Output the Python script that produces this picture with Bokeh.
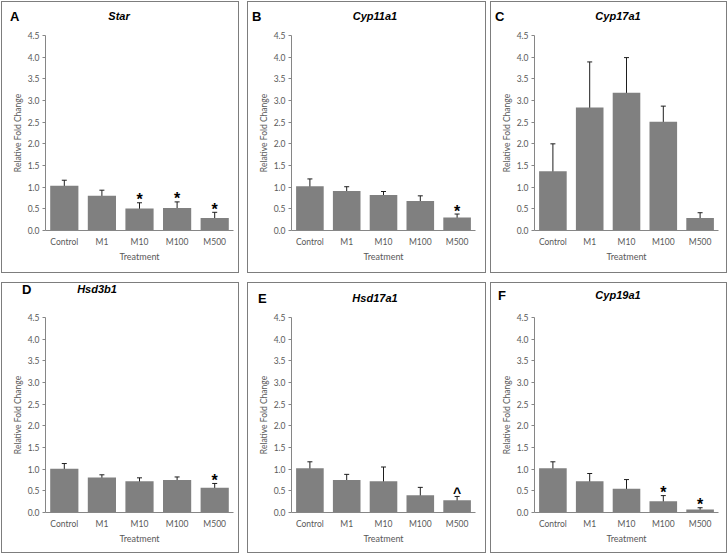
from bokeh.plotting import figure
from bokeh.models import (FactorRange, Range1d, ColumnDataSource, Whisker, TeeHead,
                          FixedTicker, NumeralTickFormatter, Spacer, Div)
from bokeh.layouts import row, column
from bokeh.core.properties import value
from bokeh.embed import file_html
from bokeh.resources import INLINE

# ---------------- data ----------------
categories = ["Control", "M1", "M10", "M100", "M500"]
genes = ["Star", "Cyp11a1", "Cyp17a1", "Hsd3b1", "Hsd17a1", "Cyp19a1"]
letters = ["A", "B", "C", "D", "E", "F"]

star_mean = [1.03, 0.80, 0.51, 0.52, 0.29]
star_err = [0.13, 0.13, 0.13, 0.14, 0.13]
star_sig = ["", "", "*", "*", "*"]

cyp11a1_mean = [1.02, 0.91, 0.82, 0.68, 0.30]
cyp11a1_err = [0.17, 0.10, 0.08, 0.12, 0.08]
cyp11a1_sig = ["", "", "", "", "*"]

cyp17a1_mean = [1.37, 2.84, 3.18, 2.51, 0.29]
cyp17a1_err = [0.63, 1.05, 0.81, 0.36, 0.12]
cyp17a1_sig = ["", "", "", "", ""]

hsd3b1_mean = [1.01, 0.81, 0.72, 0.75, 0.57]
hsd3b1_err = [0.12, 0.06, 0.08, 0.07, 0.10]
hsd3b1_sig = ["", "", "", "", "*"]

hsd17a1_mean = [1.02, 0.75, 0.72, 0.40, 0.28]
hsd17a1_err = [0.15, 0.13, 0.33, 0.18, 0.09]
hsd17a1_sig = ["", "", "", "", "^"]

cyp19a1_mean = [1.02, 0.72, 0.55, 0.26, 0.07]
cyp19a1_err = [0.15, 0.18, 0.21, 0.13, 0.04]
cyp19a1_sig = ["", "", "", "*", "*"]

y_ticks = [0.0, 0.5, 1.0, 1.5, 2.0, 2.5, 3.0, 3.5, 4.0, 4.5]
y_label = "Relative Fold Change"
x_label = "Treatment"

means = [star_mean, cyp11a1_mean, cyp17a1_mean, hsd3b1_mean, hsd17a1_mean, cyp19a1_mean]
errs = [star_err, cyp11a1_err, cyp17a1_err, hsd3b1_err, hsd17a1_err, cyp19a1_err]
sigs = [star_sig, cyp11a1_sig, cyp17a1_sig, hsd3b1_sig, hsd17a1_sig, cyp19a1_sig]

# ---------------- layout / style ----------------
col_w = [236, 237, 235]
col_br = [5, 10, 8]
row_h = [270, 269]
row_bt = [33, 34]
row_bb = [42, 40]
HD = 24
BL = 43
letter_x = [8, 4, 4, 20, 10, 7]
title_cx = [117, 127, 127, 95, 127, 127]
head_y = [13.5, 14, 14, 6, 14.5, 12]

TXT = "#595959"
AXIS = "#868686"
BAR = "#808080"
ERR = "#1e1e1e"
BORDER = "#7d7d7d"
TICK_FONT = "Lato"
HEAD_FONT = "Liberation Sans"


def make_panel(i):
    r, c = divmod(i, 3)
    W = col_w[c]
    H = row_h[r] - HD
    p = figure(x_range=FactorRange(factors=categories, range_padding=0),
               y_range=Range1d(0, 4.5), width=W, height=H,
               output_backend="svg", toolbar_location=None,
               min_border_left=BL, min_border_right=col_br[c],
               min_border_top=row_bt[r] - HD, min_border_bottom=row_bb[r])
    p.outline_line_color = None
    p.xgrid.visible = False
    p.ygrid.visible = False
    p.background_fill_color = "white"
    p.border_fill_color = "white"

    m, e, s = means[i], errs[i], sigs[i]
    src = ColumnDataSource(dict(
        x=categories, top=m,
        upper=[a + b for a, b in zip(m, e)],
        lower=[a - b for a, b in zip(m, e)],
        sig=s,
        size=["14px" if t == "^" else "16px" for t in s],
        yoff=[-3 if t == "^" else -3 for t in s],
    ))
    p.vbar(x="x", top="top", width=0.75, source=src, fill_color=BAR, line_color=None)
    w = Whisker(base="x", upper="upper", lower="lower", source=src,
                line_color=ERR, line_width=1,
                upper_head=TeeHead(size=5, line_color=ERR, line_width=1),
                lower_head=TeeHead(size=5, line_color=ERR, line_width=1))
    p.add_layout(w)
    p.text(x="x", y="upper", text="sig", source=src, text_font_size="size",
           text_font=value(HEAD_FONT), text_font_style="bold", text_color="black",
           text_align="center", text_baseline="alphabetic", y_offset="yoff")

    ya = p.yaxis[0]
    ya.ticker = FixedTicker(ticks=y_ticks)
    ya.formatter = NumeralTickFormatter(format="0.0")
    ya.axis_line_color = AXIS
    ya.major_tick_line_color = AXIS
    ya.major_tick_out = 3
    ya.major_tick_in = 0
    ya.minor_tick_line_color = None
    ya.major_label_text_font = TICK_FONT
    ya.major_label_text_font_size = "8.5px"
    ya.major_label_text_color = TXT
    ya.major_label_standoff = 3
    ya.axis_label = y_label
    ya.axis_label_text_font = TICK_FONT
    ya.axis_label_text_font_size = "8.5px"
    ya.axis_label_text_font_style = "normal"
    ya.axis_label_text_color = TXT
    ya.axis_label_standoff = 2

    xa = p.xaxis[0]
    xa.axis_line_color = AXIS
    xa.major_tick_line_color = None
    xa.major_tick_out = 0
    xa.major_tick_in = 0
    xa.minor_tick_line_color = None
    xa.major_label_text_font = TICK_FONT
    xa.major_label_text_font_size = "8.5px"
    xa.major_label_text_color = TXT
    xa.major_label_standoff = 6
    xa.axis_label = x_label
    xa.axis_label_text_font = TICK_FONT
    xa.axis_label_text_font_size = "9px"
    xa.axis_label_text_font_style = "normal"
    xa.axis_label_text_color = TXT
    xa.axis_label_standoff = 1

    html = (
        f'<div style="position:relative;width:{W}px;height:{HD}px;background:white;">'
        f'<span style="position:absolute;left:{letter_x[i]}px;top:{head_y[i]}px;'
        f'transform:translateY(-50%);font-family:\'{HEAD_FONT}\';font-weight:bold;'
        f'font-size:13px;color:black;line-height:1;white-space:nowrap;">{letters[i]}</span>'
        f'<span style="position:absolute;left:{title_cx[i]}px;top:{head_y[i]}px;'
        f'transform:translate(-50%,-50%);font-family:\'{HEAD_FONT}\';font-weight:bold;'
        f'font-style:italic;font-size:11px;color:black;line-height:1;white-space:nowrap;">'
        f'{genes[i]}</span></div>'
    )
    head = Div(text=html, width=W, height=HD, margin=0)
    panel = column(head, p, spacing=0)
    panel.styles = {"border": f"1px solid {BORDER}", "background": "white"}
    return panel


panels = [make_panel(i) for i in range(6)]
top = row(Spacer(width=1), panels[0], Spacer(width=8), panels[1], Spacer(width=4), panels[2])
bottom = row(Spacer(width=1), panels[3], Spacer(width=8), panels[4], Spacer(width=4), panels[5])
layout = column(Spacer(height=1), top, Spacer(height=9), bottom)

open("out.html", "w").write(file_html(layout, INLINE))
